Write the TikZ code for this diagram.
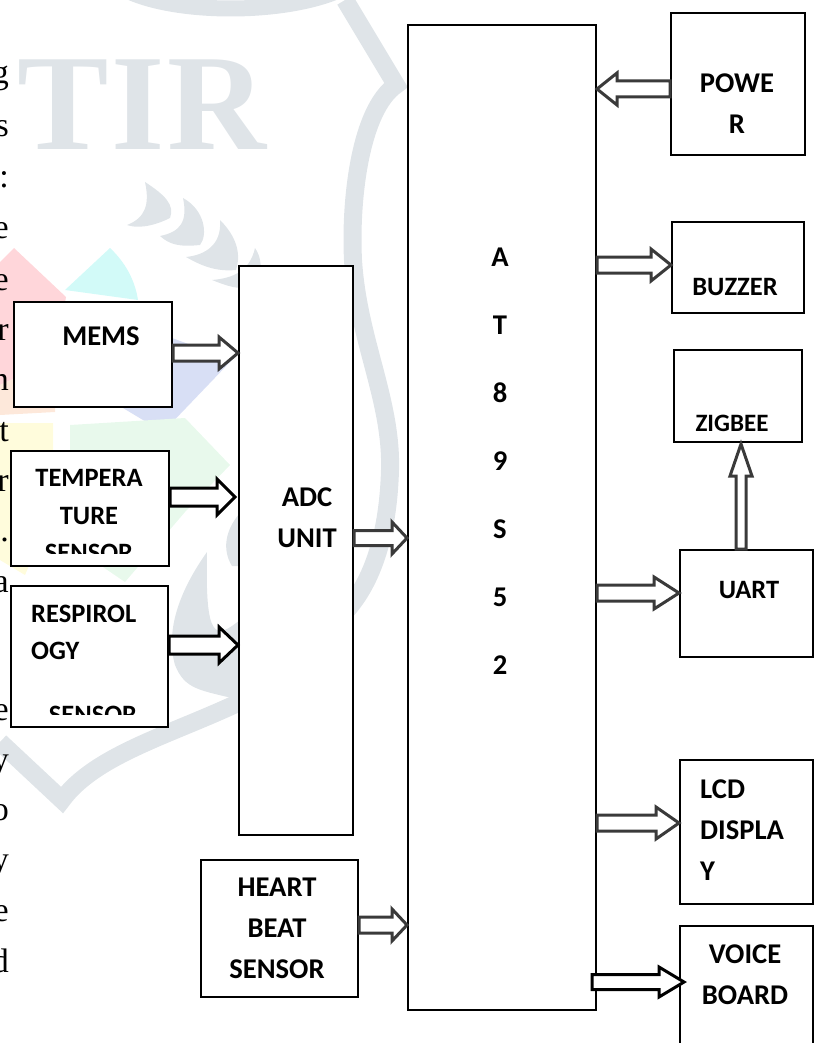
\documentclass[tikz,border=0pt]{standalone}
\usepackage{xcolor}
\usepackage{fontspec}
\usepackage{tikz}
\usetikzlibrary{calc,positioning}
\newfontfamily\labelfont{Carlito}
\newfontfamily\pagefont{Liberation Serif}
\definecolor{markgray}{HTML}{DFE4E8}
\definecolor{arrowgray}{HTML}{3A3A3A}
\definecolor{softpink}{HTML}{FFD6DA}
\definecolor{softcyan}{HTML}{D2FAF8}
\definecolor{softindigo}{HTML}{D8DFF5}
\definecolor{softmint}{HTML}{E8F9EC}
\definecolor{softyellow}{HTML}{FFFCDC}
\definecolor{softorange}{HTML}{FDE8DA}
\tikzset{
  blockbox/.style={draw=black, fill=white, line width=2pt, anchor=north west, inner sep=0pt},
  boxtext/.style={font=\labelfont\bfseries\fontsize{28.6}{41}\selectfont, align=center, inner sep=0pt},
  smalltext/.style={boxtext, font=\labelfont\bfseries\fontsize{26.5}{41}\selectfont},
  lefttext/.style={align=left, anchor=west},
  pagetext/.style={font=\pagefont\fontsize{34}{34}\selectfont, anchor=base east, inner sep=0pt},
  markband/.style={draw=markgray, line width=18pt, line join=miter},
  blockedge/.style={draw=arrowgray, fill=white, line width=3pt, line join=miter},
  darkedge/.style={blockedge, draw=black}
}
\newcommand{\blockarrow}[6][]{%
  \coordinate (from) at (#2);
  \coordinate (to) at (#3);
  \coordinate (neck) at ($(to)!#6!(from)$);
  \draw[blockedge,#1] ($(from)!#4!90:(to)$) -- ($(neck)!#4!90:(to)$) -- ($(neck)!#5!90:(to)$) -- (to)
    -- ($(neck)!#5!-90:(to)$) -- ($(neck)!#4!-90:(to)$) -- ($(from)!#4!-90:(to)$) -- cycle;
}
\begin{document}
\begin{tikzpicture}[x=1pt, y=-1pt]
  \useasboundingbox (0,0) rectangle (817,1043);
  % colour patches of the watermark
  \fill[softpink] (14,248) -- (66,297) -- (55,360) -- (0,385) -- (0,262) -- cycle;
  \fill[softorange] (0,385) -- (55,360) -- (55,412) -- (0,415) -- cycle;
  \fill[softcyan] (65,290) -- (110,248) .. controls (125,262) and (135,280) .. (138,300) -- cycle;
  \fill[softindigo] (172,338) -- (232,360) -- (163,432) -- (118,405) -- cycle;
  \fill[softmint] (70,425) -- (185,418) -- (230,465) -- (185,512) -- (125,582) -- (100,565) -- (70,510) -- cycle;
  \fill[softyellow] (0,423) -- (53,423) -- (53,510) -- (25,575) -- (0,560) -- cycle;
  % watermark
  \node[font=\pagefont\bfseries\fontsize{137}{137}\selectfont, text=markgray, inner sep=0pt, anchor=base west] (mark) at (17,150) {T\kern3pt I\kern3pt R};
  \draw[markband, line width=16pt] (130,-8) .. controls (180,14) and (280,14) .. (335,-8);
  \draw[markband] (345,0) -- (396,85) .. controls (360,110) and (350,200) .. (353,260)
    .. controls (358,340) and (392,400) .. (390,470) .. controls (388,540) and (370,585) .. (345,612);
  \draw[markband] (0,742) -- (62,800) .. controls (95,755) and (170,735) .. (240,702);
  \fill[markgray] (207,552) .. controls (180,590) and (165,630) .. (175,665) .. controls (185,690) and (200,690) .. (240,700) -- (240,620) .. controls (215,640) and (205,640) .. (207,552) -- cycle;
  \fill[markgray] (240,513) .. controls (225,530) and (222,550) .. (232,566) -- (240,566) -- cycle;
  % sprig of leaves
  \fill[markgray] (145,182) .. controls (165,195) and (175,205) .. (170,218) .. controls (150,228) and (135,228) .. (127,225) .. controls (145,218) and (150,205) .. (145,182) -- cycle;
  \fill[markgray] (183,198) .. controls (205,210) and (208,235) .. (200,245) .. controls (180,247) and (170,245) .. (160,236) .. controls (180,232) and (188,222) .. (183,198) -- cycle;
  \fill[markgray] (220,220) .. controls (240,240) and (240,258) .. (236,270) .. controls (215,272) and (200,265) .. (186,257) .. controls (205,255) and (222,245) .. (220,220) -- cycle;
  \fill[markgray] (255,248) .. controls (262,258) and (262,270) .. (258,285) .. controls (240,292) and (225,285) .. (212,280) .. controls (235,278) and (250,270) .. (255,248) -- cycle;
  % ends of the page text
  \node[pagetext] (line1) at (9,84) {g};
  \node[pagetext] (line2) at (9,137) {s};
  \node[pagetext] (line3) at (9,188) {:};
  \node[pagetext] (line4) at (9,238) {e};
  \node[pagetext] (line5) at (9,290) {e};
  \node[pagetext] (line6) at (9,340) {r};
  \node[pagetext] (line7) at (9,390) {n};
  \node[pagetext] (line8) at (9,441) {t};
  \node[pagetext] (line9) at (9,491) {r};
  \node[pagetext] (line10) at (9,541) {.};
  \node[pagetext] (line11) at (9,592) {a};
  \node[pagetext] (line12) at (9,720) {e};
  \node[pagetext] (line13) at (9,770) {y};
  \node[pagetext] (line14) at (9,820) {o};
  \node[pagetext] (line15) at (9,870) {y};
  \node[pagetext] (line16) at (9,921) {e};
  \node[pagetext] (line17) at (9,972) {d};
  % blocks
  \node[blockbox, minimum width=158pt, minimum height=105pt] (mems) at (13,301) {};
  \node[blockbox, minimum width=158pt, minimum height=115pt] (temp) at (10,450) {};
  \node[blockbox, minimum width=157pt, minimum height=141pt] (resp) at (10,585) {};
  \node[blockbox, minimum width=114pt, minimum height=569pt] (adc) at (238,265) {};
  \node[blockbox, minimum width=157pt, minimum height=137pt] (heart) at (200,859) {};
  \node[blockbox, minimum width=188pt, minimum height=985pt] (mcu) at (407,24) {};
  \node[blockbox, minimum width=134pt, minimum height=142pt] (power) at (670,12) {};
  \node[blockbox, minimum width=132pt, minimum height=91pt] (buzzer) at (671,221) {};
  \node[blockbox, minimum width=128pt, minimum height=92pt] (zigbee) at (673,349) {};
  \node[blockbox, minimum width=133pt, minimum height=107pt] (uart) at (679,549) {};
  \node[blockbox, minimum width=133pt, minimum height=144pt] (lcd) at (679,759) {};
  \node[blockbox, minimum width=133pt, minimum height=130pt] (voice) at (679,925) {};
  % block labels
  \node[boxtext] (memslabel) at (101,336) {MEMS};
  \node[smalltext] (templabel) at (89,497) {TEMPERA\\[-4pt]TURE};
  \node[smalltext, lefttext] (resplabel) at (31,632) {RESPIROL\\[-4pt]OGY};
  \begin{scope}
    \clip (10,450) rectangle (168,553);
    \node[smalltext] (tempsensor) at (89,553) {SENSOR};
  \end{scope}
  \begin{scope}
    \clip (10,585) rectangle (166,714);
    \node[smalltext] (respsensor) at (93,715) {SENSOR};
  \end{scope}
  \node[boxtext] (adclabel) at (307,518) {ADC\\UNIT};
  \node[boxtext] (heartlabel) at (277,928) {HEART\\BEAT\\SENSOR};
  \node[boxtext, font=\labelfont\bfseries\fontsize{28.6}{68}\selectfont] (mculabel) at (500,461) {A\\T\\8\\9\\S\\5\\2};
  \node[boxtext] (powerlabel) at (737,104) {POWE\\R};
  \node[smalltext] (buzzerlabel) at (735,287) {BUZZER};
  \node[smalltext, font=\labelfont\bfseries\fontsize{25}{41}\selectfont] (zigbeelabel) at (732,423) {ZIGBEE};
  \node[smalltext] (uartlabel) at (749,590) {UART};
  \node[boxtext, lefttext] (lcdlabel) at (700,830) {LCD\\DISPLA\\Y};
  \node[boxtext] (voicelabel) at (745,975) {VOICE\\BOARD};
  % connectors
  \blockarrow{mems.east |- 0,353}{adc.west |- 0,353}{8pt}{16pt}{19pt}
  \blockarrow[darkedge]{temp.east |- 0,497}{235,497}{9pt}{18pt}{18pt}
  \blockarrow[darkedge]{resp.east |- 0,645}{adc.west |- 0,645}{9pt}{18pt}{19pt}
  \blockarrow{adc.east |- 0,538}{mcu.west |- 0,538}{7.5pt}{16pt}{15pt}
  \blockarrow{heart.east |- 0,925}{mcu.west |- 0,925}{8pt}{16pt}{15pt}
  \blockarrow{power.west |- 0,89}{mcu.east |- 0,89}{8pt}{16pt}{20pt}
  \blockarrow{mcu.east |- 0,265}{buzzer.west |- 0,265}{8pt}{16pt}{20pt}
  \blockarrow{mcu.east |- 0,593}{uart.west |- 0,593}{8pt}{16pt}{25pt}
  \blockarrow{741,549}{741,444}{5pt}{11pt}{32pt}
  \blockarrow{mcu.east |- 0,823}{lcd.west |- 0,823}{8pt}{16pt}{23pt}
  \blockarrow[darkedge]{592,982}{684,982}{7.5pt}{15pt}{25pt}
\end{tikzpicture}
\end{document}
